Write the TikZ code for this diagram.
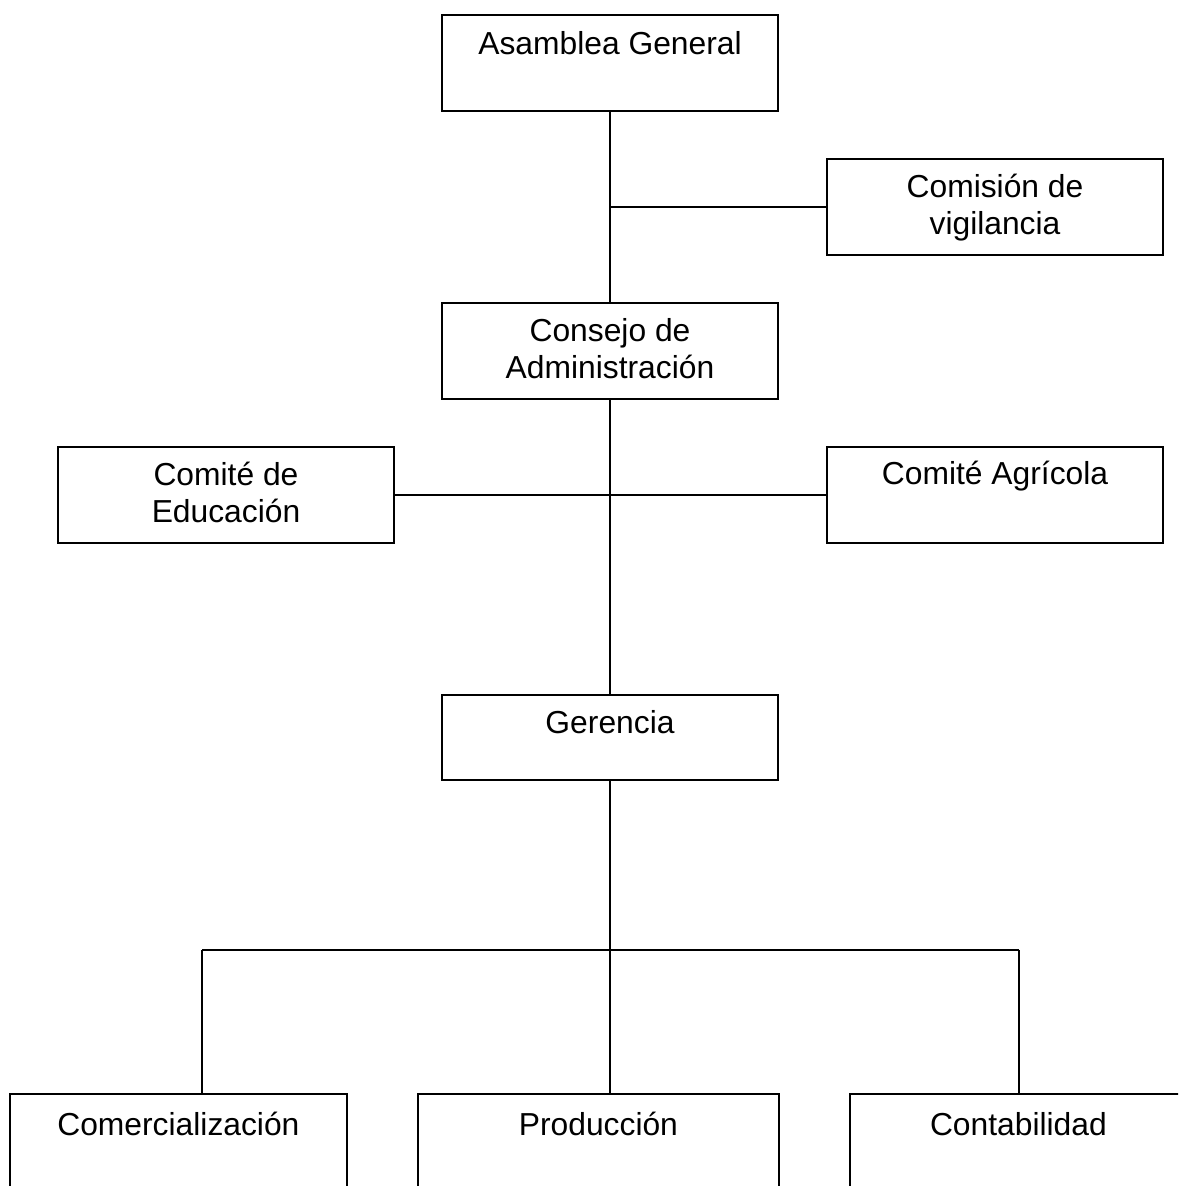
\documentclass[tikz,border=0pt]{standalone}
\usepackage{fontspec}
\setmainfont{Liberation Sans}
\begin{document}
\begin{tikzpicture}[x=0.5pt,y=-0.5pt,
  boxline/.style={line width=1pt, line join=miter},
  box/.style={boxline, draw, rectangle, inner sep=0pt, anchor=north west,
              minimum width=168pt, minimum height=48pt},
  openbox/.style={rectangle, inner sep=0pt, anchor=north west,
              minimum width=168pt, minimum height=46pt},
  lbl/.style={inner sep=0pt, anchor=base, align=center,
              font=\fontsize{15.9pt}{18.5pt}\selectfont},
  conn/.style={line width=0.75pt}
]
\useasboundingbox (0,0) rectangle (1178,1186);
\clip (0,0) rectangle (1178,1186);

% boxes
\node[box] (ag) at (441,14) {};
\node[box] (cv) at (826,158) {};
\node[box] (ca) at (441,302) {};
\node[box] (ce) at (57,446) {};
\node[box] (cg) at (826,446) {};
\node[box, minimum height=42.5pt] (ge) at (441,694) {};
\node[openbox] (com) at (10,1094) {};
\node[openbox, minimum width=180pt] (pr) at (418,1094) {};
\node[openbox] (ct) at (850,1094) {};
\draw[boxline] (com.south west) |- (com.north east) -- (com.south east);
\draw[boxline] (pr.south west) |- (pr.north east) -- (pr.south east);
\draw[boxline] (ct.south west) |- (ct.north east) -- (ct.south east);

% texts (base anchor of a two-line node is its last line)
\node[lbl] (ag-t) at ([yshift=-20.5pt]ag.north) {Asamblea General};
\node[lbl] (cv-t) at ([yshift=-38.5pt]cv.north) {Comisión de\\vigilancia};
\node[lbl] (ca-t) at ([yshift=-38.5pt]ca.north) {Consejo de\\Administración};
\node[lbl] (ce-t) at ([yshift=-38.5pt]ce.north) {Comité de\\Educación};
\node[lbl] (cg-t) at ([yshift=-19.5pt]cg.north) {Comité Agrícola};
\node[lbl] (ge-t) at ([yshift=-19.5pt]ge.north) {Gerencia};
\node[lbl] (com-t) at ([yshift=-20.5pt]com.north) {Comercialización};
\node[lbl] (pr-t) at ([yshift=-20.5pt]pr.north) {Producción};
\node[lbl] (ct-t) at ([yshift=-20.5pt]ct.north) {Contabilidad};

% connectors
\coordinate (barL) at (202,950);
\coordinate (barR) at (1019,950);
\coordinate (barM) at (ge.south |- barL);
\draw[conn] (ag.south) -- (ca.north);
\draw[conn] (cv.west) -- (cv.west -| ag.south);
\draw[conn] (ca.south) -- (ge.north);
\draw[conn] (ce.east) -- (cg.west);
\draw[conn] (ge.south) -- (barM);
\draw[conn] (barL) -- (barR);
\draw[conn] (barL) -- (barL |- com.north);
\draw[conn] (barM) -- (barM |- pr.north);
\draw[conn] (barR) -- (barR |- ct.north);
\end{tikzpicture}
\end{document}
